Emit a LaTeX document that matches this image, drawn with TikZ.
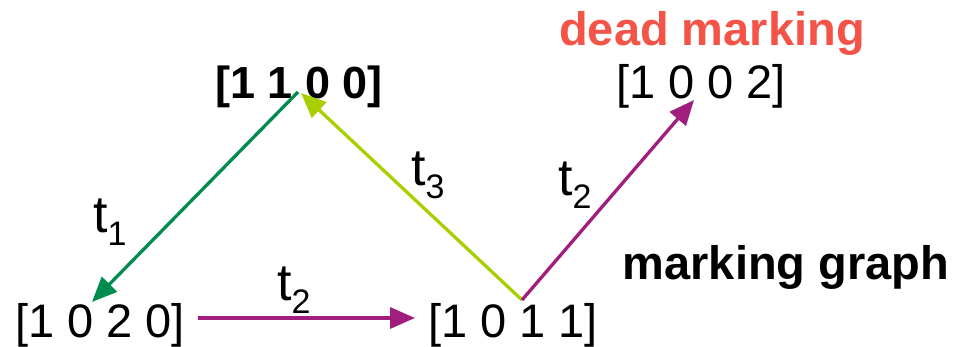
\documentclass[tikz,border=0pt]{standalone}
\usepackage{fontspec}
\setmainfont{Liberation Sans}
\usetikzlibrary{arrows.meta,calc}
\definecolor{arrgreen}{RGB}{0,140,78}
\definecolor{arrlime}{RGB}{168,208,0}
\definecolor{arrpurple}{RGB}{160,30,126}
\definecolor{deadred}{RGB}{244,84,72}
\tikzset{
  marking/.style={inner sep=0pt,anchor=base,font=\fontsize{47}{47}\selectfont},
  bmarking/.style={inner sep=0pt,anchor=base,font=\fontsize{45}{45}\selectfont\bfseries},
  title/.style={inner sep=0pt,anchor=base,font=\fontsize{47}{47}\selectfont\bfseries},
  tlabel/.style={inner sep=0pt,anchor=base west,font=\fontsize{52}{52}\selectfont},
  arc/.style={line width=3.3pt,-{Triangle[length=25pt,width=21pt]}},
}
\newcommand{\tsub}[1]{t\raisebox{-13pt}{\fontsize{34}{34}\selectfont #1}}
\begin{document}
\begin{tikzpicture}[x=1pt,y=-1pt]
\useasboundingbox (0,0) rectangle (957,347);
\node[bmarking] (n1100) at (299,99) {[1 1 0 0]};
\node[marking] (n1002) at (701,99) {[1 0 0 2]};
\node[marking] (n1020) at (100,337) {[1 0 2 0]};
\node[marking] (n1011) at (513,337) {[1 0 1 1]};
\node[title,text=deadred] (dead) at (712,46) {dead marking};
\node[title] (mg) at (786,279) {marking graph};
\node[tlabel] (l1) at (93,233) {\tsub{1}};
\node[tlabel] (l2a) at (277,300) {\tsub{2}};
\node[tlabel] (l3) at (411,186) {\tsub{3}};
\node[tlabel] (l2b) at (558,196) {\tsub{2}};
\draw[arc,arrgreen] ($(n1100.base)+(-1,-7)$) -- ($(n1020.base)+(-8,-35)$);
\draw[arc,arrlime] ($(n1011.base)+(9,-37)$) -- ($(n1100.base)+(2,-6)$);
\draw[arc,arrpurple] ($(n1020.base)+(98,-19)$) -- ($(n1011.base)+(-98,-19)$);
\draw[arc,arrpurple] ($(n1011.base)+(9,-37)$) -- ($(n1002.base)+(-7,1)$);
\end{tikzpicture}
\end{document}
